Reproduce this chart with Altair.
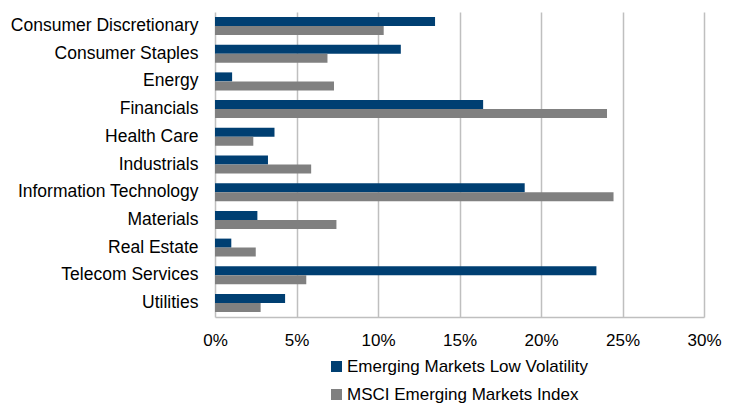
import altair as alt
import pandas as pd

sectors = ["Consumer Discretionary", "Consumer Staples", "Energy", "Financials",
           "Health Care", "Industrials", "Information Technology", "Materials",
           "Real Estate", "Telecom Services", "Utilities"]
low_vol = [13.5, 11.4, 1.05, 16.45, 3.65, 3.25, 19.0, 2.6, 1.0, 23.4, 4.3]
msci = [10.35, 6.9, 7.3, 24.05, 2.35, 5.9, 24.45, 7.45, 2.5, 5.6, 2.8]
series = ["Emerging Markets Low Volatility", "MSCI Emerging Markets Index"]
colors = ["#003F72", "#808080"]
ticks = [0, 5, 10, 15, 20, 25, 30]

rows = []
for i, s in enumerate(sectors):
    rows.append({"Sector": s, "Series": series[0], "Value": low_vol[i] / 100})
    rows.append({"Sector": s, "Series": series[1], "Value": msci[i] / 100})
df = pd.DataFrame(rows)

font = "Liberation Sans"

chart = alt.Chart(df).mark_bar().encode(
    x=alt.X("Value:Q",
            scale=alt.Scale(domain=[0, 0.30], nice=False),
            axis=alt.Axis(values=[t / 100 for t in ticks], format=".0%", title=None,
                          grid=True, gridColor="#BFBFBF", gridWidth=1.5,
                          domain=True, domainColor="#BFBFBF", domainWidth=1.5,
                          ticks=False, labelPadding=15, labelFontSize=17,
                          labelFlush=False,
                          labelFont=font, labelColor="#000000")),
    y=alt.Y("Sector:N", sort=sectors,
            scale=alt.Scale(paddingInner=0.35, paddingOuter=0.18),
            axis=alt.Axis(title=None, domain=False, ticks=False, labelPadding=17,
                          labelFontSize=17.5, labelFont=font, labelColor="#000000",
                          labelLimit=300)),
    yOffset=alt.YOffset("Series:N", sort=series, scale=alt.Scale(paddingInner=0, paddingOuter=0)),
    color=alt.Color("Series:N", sort=series,
                    scale=alt.Scale(domain=series, range=colors),
                    legend=alt.Legend(title=None, orient="none", legendX=113, legendY=346,
                                      direction="vertical", symbolType="square",
                                      symbolSize=121, symbolStrokeWidth=0,
                                      labelFontSize=17, labelFont=font,
                                      labelColor="#000000", rowPadding=10,
                                      labelOffset=2, labelLimit=400)),
).properties(
    width=489, height=305,
    autosize=alt.AutoSizeParams(type="none"),
    padding={"left": 207, "top": 4, "right": 19, "bottom": 88},
).configure_view(stroke=None)

chart.save("out.html", embed_options={"renderer": "svg", "actions": False})
